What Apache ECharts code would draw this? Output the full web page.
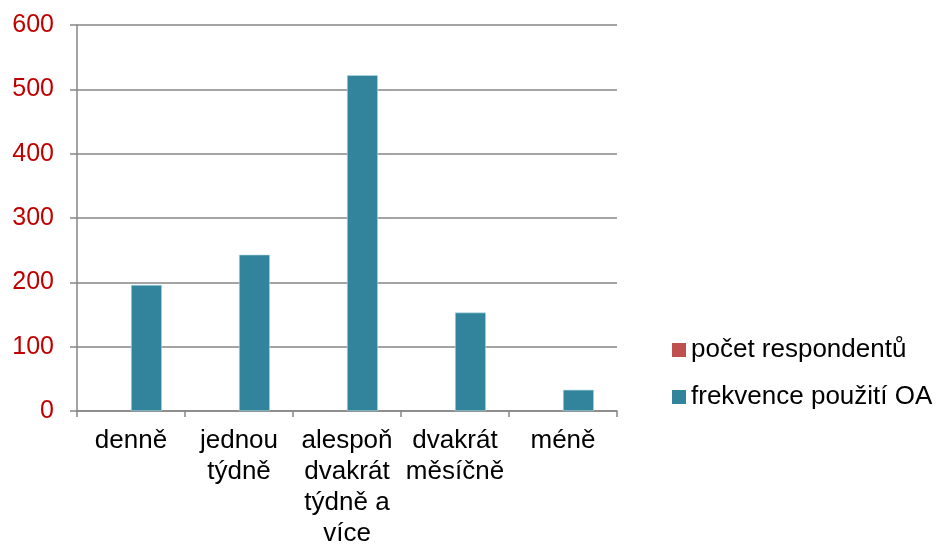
<!DOCTYPE html>
<html>
<head>
<meta charset="utf-8">
<script src="https://cdn.jsdelivr.net/npm/echarts@6/dist/echarts.min.js"></script>
<style>
html, body { margin: 0; padding: 0; background: #fff; }
#chart { width: 941px; height: 549px; }
</style>
</head>
<body>
<div id="chart"></div>
<script>
// kategorie a hodnoty
var categories = ['denně', 'jednou\ntýdně', 'alespoň\ndvakrát\ntýdně a\nvíce', 'dvakrát\nměsíčně', 'méně'];
var pocetRespondentu = [null, null, null, null, null];
var frekvenceOA = [196, 243, 522, 153, 33];
var yTicks = { min: 0, max: 600, interval: 100 };

var font = 'Liberation Sans, Arial, sans-serif';
var myChart = echarts.init(document.getElementById('chart'));

var option = {
	animation: false,
	backgroundColor: '#ffffff',
	grid: {
		left: 77,
		right: 324,
		top: 25,
		bottom: 132
	},
	legend: {
		orient: 'vertical',
		left: 667,
		top: 332,
		itemWidth: 14,
		itemHeight: 14,
		itemGap: 21,
		icon: 'rect',
		itemStyle: { borderWidth: 0 },
		textStyle: {
			fontFamily: font,
			fontSize: 26,
			color: '#000'
		},
		data: ['počet respondentů', 'frekvence použití OA']
	},
	xAxis: {
		type: 'category',
		data: categories,
		axisLine: { lineStyle: { color: '#868686', width: 1.5 } },
		axisTick: { show: true, length: 6, interval: 0, lineStyle: { color: '#868686', width: 1.5 } },
		axisLabel: {
			interval: 0,
			margin: 14,
			fontFamily: font,
			fontSize: 26,
			lineHeight: 31,
			color: '#000'
		}
	},
	yAxis: {
		type: 'value',
		min: yTicks.min,
		max: yTicks.max,
		interval: yTicks.interval,
		axisLine: { show: true, lineStyle: { color: '#868686', width: 1.5 } },
		axisTick: { show: true, length: 7, lineStyle: { color: '#868686', width: 1.5 } },
		splitLine: { lineStyle: { color: '#868686', width: 1.5 } },
		axisLabel: {
			margin: 23,
			fontFamily: font,
			fontSize: 25,
			color: '#C00000'
		}
	},
	series: [{
		name: 'počet respondentů',
		type: 'bar',
		data: pocetRespondentu,
		barWidth: '28.6%',
		barGap: '0%',
		itemStyle: { color: '#C0504D' }
	}, {
		name: 'frekvence použití OA',
		type: 'bar',
		data: frekvenceOA,
		barWidth: '28.6%',
		barGap: '0%',
		itemStyle: { color: '#31849B', borderColor: '#B7DDE8', borderWidth: 0.6 }
	}]
};

myChart.setOption(option);
</script>
</body>
</html>
